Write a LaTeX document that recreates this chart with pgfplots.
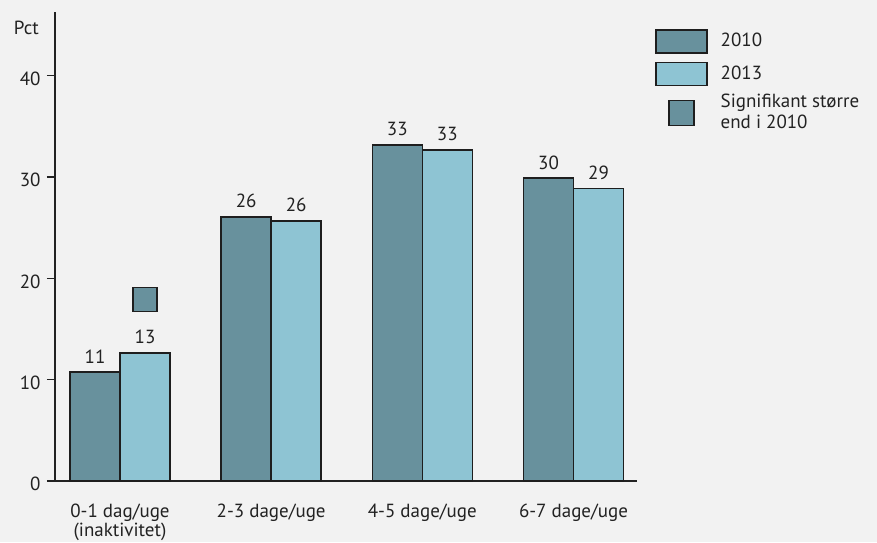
\documentclass[border=0pt]{standalone}
\usepackage{pgfplots}
\pgfplotsset{compat=1.18}
\usepackage{fontspec}
\setmainfont{PT Sans}
\definecolor{bg}{HTML}{F2F2F2}
\definecolor{cA}{HTML}{68919D}
\definecolor{cB}{HTML}{8EC4D3}
\definecolor{edge}{HTML}{1E1E1E}
\definecolor{txt}{HTML}{222222}
\begin{document}
\fontsize{19}{20}\selectfont
\begin{tikzpicture}
\fill[bg] (0,0) rectangle (877pt,542pt);
\useasboundingbox (0,0) rectangle (877pt,542pt);
\begin{axis}[
  at={(55pt,61pt)}, anchor=south west,
  scale only axis, width=582pt, height=469pt,
  xmin=-0.43, xmax=3.42, ymin=0, ymax=46.3,
  axis lines=left, axis line style={-, draw=txt, line width=1.3pt},
  ytick={0,10,20,30,40}, tick align=outside, major tick length=8pt,
  ytick style={draw=txt, line width=1.3pt},
  xtick={0,1,2,3}, xtick style={draw=none},
  xticklabels={{0-1 dag/uge\\(inaktivitet)}, 2-3 dage/uge, 4-5 dage/uge, 6-7 dage/uge},
  xticklabel style={align=center, text=txt, yshift=-8pt},
  yticklabel style={text=txt, yshift=-3pt},
  tick label style={font=\fontsize{19}{19}\selectfont},
  /pgf/number format/assume math mode=true,
  /pgf/number format/fixed,
  /pgf/number format/precision=0,
  clip=false,
  legend style={at={(axis description cs:1.0309,0.9637)}, anchor=north west,
    draw=none, fill=none, inner sep=0pt, row sep=8pt, column sep=13pt,
    legend cell align=left, text=txt,
    font=\fontsize{19}{21}\selectfont,
    nodes={align=left, inner sep=0pt}},
]
\addplot[ybar, bar width=50pt, bar shift=-25pt, fill=cA, draw=edge, line width=1.5pt,
  nodes near coords, every node near coord/.append style={text=txt, inner sep=0pt, anchor=south, yshift=8pt, xshift=-25pt},
  legend image code/.code={\draw[fill=cA, draw=edge, line width=1.5pt] (0pt,-11.5pt) rectangle (51pt,11.5pt);}]
  coordinates {(0,10.77) (1,26.07) (2,33.18) (3,29.9)};
\addlegendentry{2010}
\addplot[ybar, bar width=50pt, bar shift=25pt, fill=cB, draw=edge, line width=1.5pt,
  nodes near coords, every node near coord/.append style={text=txt, inner sep=0pt, anchor=south, yshift=8pt, xshift=25pt},
  legend image code/.code={\draw[fill=cB, draw=edge, line width=1.5pt] (0pt,-11.5pt) rectangle (51pt,11.5pt);}]
  coordinates {(0,12.64) (1,25.68) (2,32.7) (3,28.9)};
\addlegendentry{2013}
\addplot[only marks, mark=square*, mark size=12pt, mark options={fill=cA, draw=edge, line width=1.5pt},
  legend image code/.code={\path[draw=none] (0pt,0pt) -- (51pt,0pt); \draw[fill=cA, draw=edge, line width=1.5pt] (13pt,-12.5pt) rectangle (38pt,12.5pt);}]
  coordinates {(0.1656,17.9)};
\addlegendentry{Signifikant større\\end i 2010}
\node[anchor=base east, text=txt, inner sep=0pt, xshift=-16pt] at (axis description cs:0,0.953) {Pct};
\end{axis}
\end{tikzpicture}
\end{document}
